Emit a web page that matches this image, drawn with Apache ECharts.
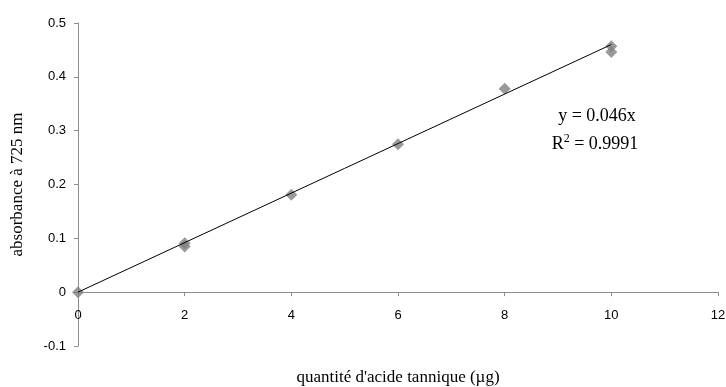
<!DOCTYPE html>
<html>
<head>
<meta charset="utf-8">
<script src="https://cdn.jsdelivr.net/npm/echarts@6/dist/echarts.min.js"></script>
<style>
  html, body { margin: 0; padding: 0; background: #fff; }
  #chart { width: 726px; height: 387px; }
</style>
</head>
<body>
<div id="chart"></div>
<script>
// Tannic acid calibration: quantity (µg) vs absorbance at 725 nm
const quantities = [0, 2, 2, 4, 6, 8, 10, 10];
const absorbances = [0, 0.091, 0.085, 0.181, 0.275, 0.378, 0.457, 0.446];
const slope = 0.046;
const rSquared = '0.9991';
const trendX = [0, 10];

const xTicks = { min: 0, max: 12, interval: 2 };
const yTicks = { min: -0.1, max: 0.5, interval: 0.1 };

const points = quantities.map((q, i) => [q, absorbances[i]]);
const trend = trendX.map(x => [x, slope * x]);

const gridBox = { left: 78, right: 8, top: 23, bottom: 41 };
const chartHeight = 387;
// the x axis sits on y = 0: shift it up from the grid's bottom edge
const plotHeight = chartHeight - gridBox.top - gridBox.bottom;
const zeroOffset = -plotHeight * (0 - yTicks.min) / (yTicks.max - yTicks.min);

const chart = echarts.init(document.getElementById('chart'), null, { renderer: 'canvas' });

const axisGrey = '#8c8c8c';
const sans = '"Liberation Sans", Arial, sans-serif';
const serif = '"Liberation Serif", "Times New Roman", serif';

chart.setOption({
  animation: false,
  backgroundColor: '#ffffff',
  grid: Object.assign({ containLabel: false, outerBoundsMode: 'none' }, gridBox),
  xAxis: {
    type: 'value',
    min: xTicks.min, max: xTicks.max, interval: xTicks.interval,
    offset: zeroOffset,
    axisLine: { show: true, onZero: false, lineStyle: { color: axisGrey, width: 1 } },
    axisTick: { show: true, inside: false, length: 4, lineStyle: { color: axisGrey } },
    axisLabel: { color: '#000', fontFamily: sans, fontSize: 13, margin: 17 },
    splitLine: { show: false },
    name: "quantité d'acide tannique (µg)",
    nameLocation: 'middle',
    nameGap: 77,
    nameTextStyle: { color: '#000', fontFamily: serif, fontSize: 17 }
  },
  yAxis: {
    type: 'value',
    min: yTicks.min, max: yTicks.max, interval: yTicks.interval,
    axisLine: { show: true, onZero: false, lineStyle: { color: axisGrey, width: 1 } },
    axisTick: { show: true, length: 4, lineStyle: { color: axisGrey } },
    axisLabel: { color: '#000', fontFamily: sans, fontSize: 13, margin: 12 },
    splitLine: { show: false },
    name: 'absorbance à 725 nm',
    nameLocation: 'middle',
    nameGap: 52,
    nameTextStyle: { color: '#000', fontFamily: serif, fontSize: 17 }
  },
  series: [
    {
      type: 'line',
      data: trend,
      symbol: 'none',
      lineStyle: { color: '#000', width: 1 },
      z: 3
    },
    {
      type: 'scatter',
      data: points,
      symbol: 'diamond',
      symbolSize: 12,
      itemStyle: { color: '#808080' },
      z: 2
    }
  ],
  graphic: [
    {
      type: 'text',
      x: 597, y: 116,
      style: {
        text: 'y = ' + slope + 'x', fill: '#000', font: '18px ' + serif,
        align: 'center', verticalAlign: 'middle'
      }
    },
    {
      type: 'text',
      x: 595, y: 143,
      style: {
        text: '{r|R}{s|2}{r| = ' + rSquared + '}',
        align: 'center', verticalAlign: 'middle',
        rich: {
          r: { fill: '#000', font: '18px ' + serif, verticalAlign: 'bottom' },
          s: { fill: '#000', font: '12px ' + serif, verticalAlign: 'top', padding: [0, 0, 9, 0] }
        }
      }
    }
  ]
});
</script>
</body>
</html>
